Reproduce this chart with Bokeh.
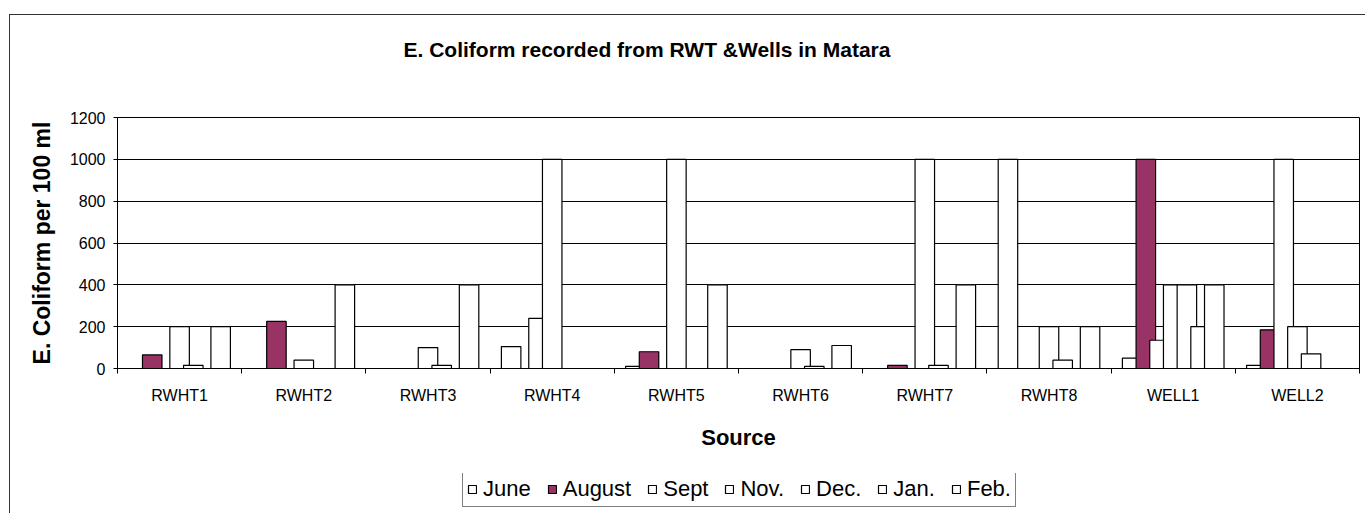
from bokeh.plotting import figure
from bokeh.models import Range1d, FixedTicker, Legend, LegendItem, ColumnDataSource, Label
from bokeh.layouts import column
from bokeh.embed import file_html
from bokeh.resources import INLINE
import numpy as np

categories = ["RWHT1", "RWHT2", "RWHT3", "RWHT4", "RWHT5", "RWHT6", "RWHT7", "RWHT8", "WELL1", "WELL2"]
months = ["June", "August", "Sept", "Nov.", "Dec.", "Jan.", "Feb."]
june   = [0, 0, 0, 105, 10, 0, 0, 1000, 50, 15]
august = [65, 225, 0, 0, 80, 0, 15, 0, 1000, 185]
sept   = [0, 0, 0, 240, 0, 0, 0, 0, 135, 1000]
nov    = [200, 40, 100, 1000, 1000, 90, 1000, 200, 400, 200]
dec    = [15, 0, 15, 0, 0, 10, 15, 40, 400, 70]
jan    = [0, 0, 0, 0, 0, 0, 0, 0, 200, 0]
feb    = [200, 400, 400, 0, 400, 110, 400, 200, 400, 0]
series = [june, august, sept, nov, dec, jan, feb]
fills = ["white", "#993366", "white", "white", "white", "white", "white"]
y_ticks = [0, 200, 400, 600, 800, 1000, 1200]
title_text = "E. Coliform recorded from RWT &Wells in Matara"

FONT = "Liberation Sans"
W = 1355

# ---- title strip ----
top = figure(width=W, height=90, output_backend="svg", toolbar_location=None,
             x_range=Range1d(0, 1242), y_range=Range1d(0, 90),
             min_border_left=0, min_border_right=0, min_border_top=0, min_border_bottom=0)
top.axis.visible = False
top.grid.visible = False
top.outline_line_color = None
top.background_fill_color = "white"
top.border_fill_color = "white"
top.add_layout(Label(x=286, y=56, text=title_text, text_font=FONT, text_font_size="21px",
                     text_font_style="bold", text_color="black",
                     text_align="left", text_baseline="middle"))

# ---- main chart ----
p = figure(width=W, height=368, output_backend="svg", toolbar_location=None,
           x_range=Range1d(0, len(categories)), y_range=Range1d(0, 1200),
           min_border_left=107, min_border_right=6, min_border_top=12, min_border_bottom=105)
p.background_fill_color = "white"
p.border_fill_color = "white"
p.outline_line_color = "black"
p.outline_line_width = 1

centers = np.arange(len(categories)) + 0.5
step = 0.1102
bw = 0.157
sources = []
for k, (name, vals, fc) in enumerate(zip(months, series, fills)):
    src = ColumnDataSource(dict(x=centers + (k - 3) * step, top=vals))
    sources.append(src)
    p.vbar(x="x", top="top", width=bw, bottom=0, source=src,
           fill_color=fc, line_color="black", line_width=1.2)

p.xaxis.ticker = FixedTicker(ticks=list(centers), minor_ticks=list(range(len(categories) + 1)))
p.xaxis.major_label_overrides = {float(c): n for c, n in zip(centers, categories)}
p.xaxis.major_tick_out = 0
p.xaxis.major_tick_in = 0
p.xaxis.minor_tick_out = 5
p.xaxis.minor_tick_in = 0
p.xaxis.minor_tick_line_color = "black"
p.xaxis.axis_line_color = "black"
p.xaxis.major_label_text_font = FONT
p.xaxis.major_label_text_font_size = "16px"
p.xaxis.major_label_text_color = "black"
p.xaxis.major_label_standoff = 13
p.xaxis.axis_label = "Source"
p.xaxis.axis_label_text_font = FONT
p.xaxis.axis_label_text_font_size = "22px"
p.xaxis.axis_label_text_font_style = "bold"
p.xaxis.axis_label_text_color = "black"
p.xaxis.axis_label_standoff = 18
p.xgrid.visible = False

p.yaxis.ticker = FixedTicker(ticks=y_ticks)
p.yaxis.major_tick_out = 4
p.yaxis.major_tick_in = 0
p.yaxis.minor_tick_line_color = None
p.yaxis.axis_line_color = "black"
p.yaxis.major_label_text_font = FONT
p.yaxis.major_label_text_font_size = "16px"
p.yaxis.major_label_text_color = "black"
p.yaxis.major_label_standoff = 8
p.yaxis.axis_label = "E. Coliform per 100 ml"
p.yaxis.axis_label_text_font = FONT
p.yaxis.axis_label_text_font_size = "23px"
p.yaxis.axis_label_text_font_style = "bold"
p.yaxis.axis_label_text_color = "black"
p.yaxis.axis_label_standoff = 12
p.ygrid.grid_line_color = "black"
p.ygrid.grid_line_width = 1

# ---- legend strip (its bars sit hidden under the opaque legend box) ----
leg = figure(width=W, height=40, output_backend="svg", toolbar_location=None,
             x_range=Range1d(-6.5, 16.5), y_range=Range1d(-400, 1600),
             min_border_left=0, min_border_right=0, min_border_top=0, min_border_bottom=0)
leg.axis.visible = False
leg.grid.visible = False
leg.outline_line_color = None
leg.background_fill_color = "white"
leg.border_fill_color = "white"
items = []
for name, fc, src in zip(months, fills, sources):
    r = leg.vbar(x="x", top="top", width=bw, bottom=0, source=src,
                 fill_color=fc, line_color="black", line_width=1.2)
    items.append(LegendItem(label=name, renderers=[r]))
legend = Legend(items=items, orientation="horizontal", location=(345, 6),
                label_text_font=FONT, label_text_font_size="22px", label_text_color="black",
                glyph_width=10, glyph_height=10, label_standoff=6, spacing=16,
                padding=4, margin=0, border_line_color="black", border_line_width=1,
                background_fill_color="white", background_fill_alpha=1)
leg.add_layout(legend, "center")

layout = column(top, p, leg, spacing=0, margin=(14, 0, 0, 9),
                styles={"border-top": "1px solid #333333", "border-left": "1px solid #333333"})

open("out.html", "w").write(file_html(layout, INLINE))
